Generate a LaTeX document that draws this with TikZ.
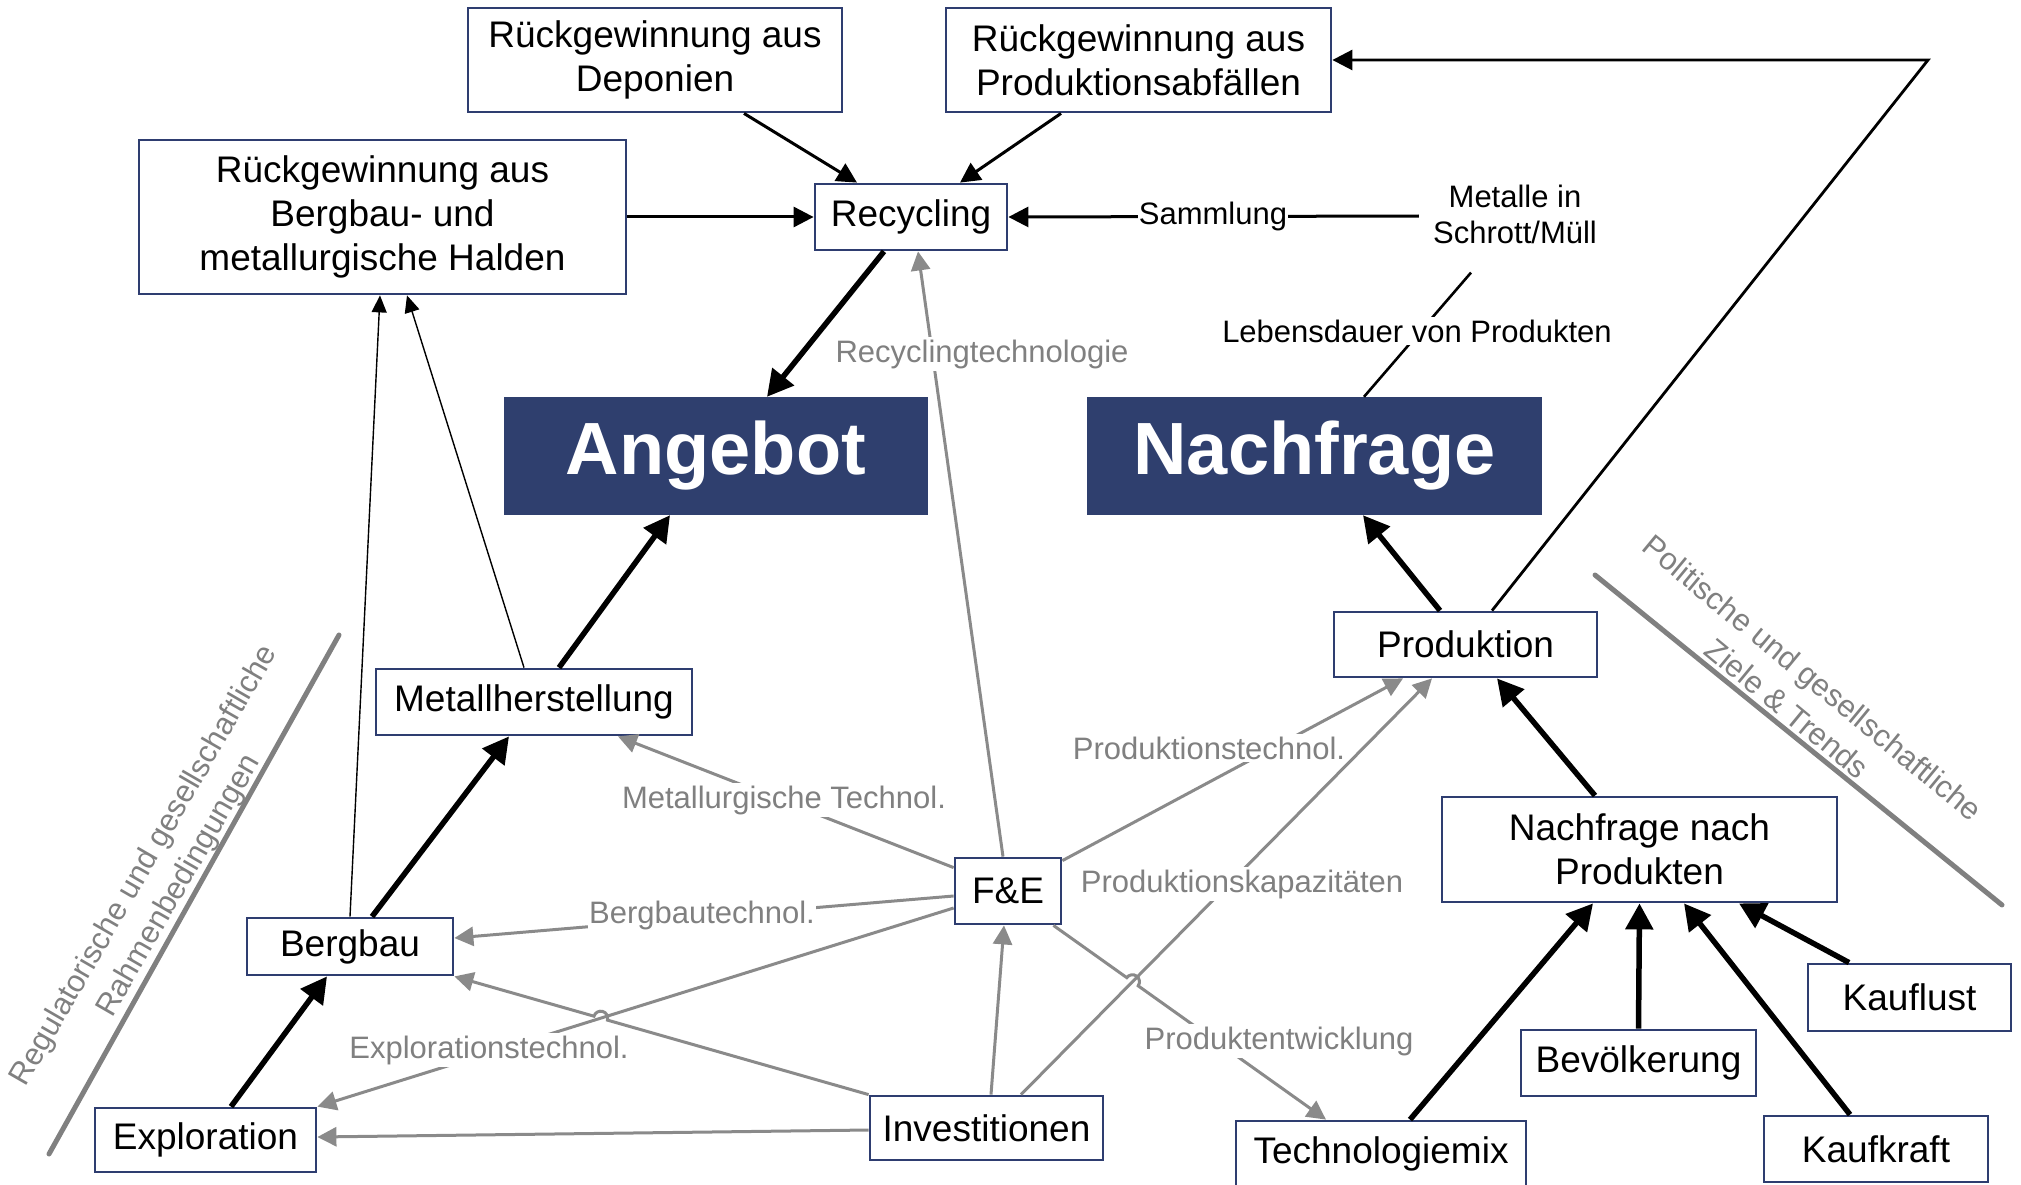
\documentclass[tikz,border=0pt]{standalone}
\usepackage{fontspec}
\setmainfont{Liberation Sans}
\usetikzlibrary{arrows.meta,intersections,calc}
\definecolor{navy}{RGB}{47,63,110}
\definecolor{boxline}{RGB}{46,61,112}
\definecolor{tgray}{RGB}{128,128,128}
\definecolor{lgray}{RGB}{138,138,138}

\begin{document}
\begin{tikzpicture}[x=1pt,y=1pt,
  box/.style={draw=boxline,line width=2.8pt,fill=white,inner sep=0pt,align=center,
    font=\fontsize{37}{44}\selectfont,text=black},
  bigbox/.style={fill=navy,inner sep=0pt,text=white,font=\fontsize{74}{80}\selectfont\bfseries},
  lbl/.style={fill=white,inner xsep=1pt,inner ysep=3pt,font=\fontsize{31}{36}\selectfont,text=tgray},
  blbl/.style={lbl,text=black},
  heavy/.style={line width=5.5pt,-{Triangle[length=26pt,width=27pt]}},
  medium/.style={line width=3pt,-{Triangle[length=20pt,width=20pt]}},
  slim/.style={line width=1.4pt,-{Triangle[length=17pt,width=15pt]}},
  grayarrow/.style={draw=lgray,line width=3pt,-{Triangle[length=19pt,width=19pt]}},
  divider/.style={draw=tgray,line width=5pt,line cap=round},
  sidetext/.style={font=\fontsize{31}{40}\selectfont,text=tgray,align=center}
]
\useasboundingbox (0,0) rectangle (2021,-1185);

% boxes
\node[box,minimum width=374pt,minimum height=104pt] (dep) at (655,-60) {Rückgewinnung aus\\Deponien};
\node[box,minimum width=385pt,minimum height=104pt] (pab) at (1138.5,-60) {Rückgewinnung aus\\Produktionsabfällen};
\node[box,minimum width=487pt,minimum height=154pt] (hal) at (382.5,-217) {Rückgewinnung aus\\Bergbau- und\\metallurgische Halden};
\node[box,minimum width=192pt,minimum height=66pt] (rec) at (911,-217) {Recycling};
\node[bigbox,minimum width=424pt,minimum height=118pt] (ang) at (716,-456) {Angebot};
\node[bigbox,minimum width=455pt,minimum height=118pt] (nach) at (1314.5,-456) {Nachfrage};
\node[box,minimum width=263pt,minimum height=65pt] (prod) at (1465.5,-644.5) {Produktion};
\node[box,minimum width=395pt,minimum height=105pt] (nnp) at (1639.5,-849.5) {Nachfrage nach\\Produkten};
\node[box,minimum width=203pt,minimum height=67pt] (kl) at (1909.5,-997.5) {Kauflust};
\node[box,minimum width=235pt,minimum height=66pt] (bev) at (1638.5,-1063) {Bevölkerung};
\node[box,minimum width=224pt,minimum height=66pt] (kk) at (1876,-1149) {Kaufkraft};
\node[box,minimum width=290pt,minimum height=66pt] (tm) at (1381,-1154) {Technologiemix};
\node[box,minimum width=233pt,minimum height=64pt] (inv) at (986.5,-1128) {Investitionen};
\node[box,minimum width=106pt,minimum height=66pt] (fe) at (1008,-891) {F\&E};
\node[box,minimum width=316pt,minimum height=66pt] (mh) at (534,-702) {Metallherstellung};
\node[box,minimum width=206pt,minimum height=57pt] (berg) at (350,-946.5) {Bergbau};
\node[box,minimum width=221pt,minimum height=64pt] (expl) at (205.5,-1140) {Exploration};

\node[font=\fontsize{31}{36}\selectfont,align=center,inner sep=14pt] (met) at (1515,-214) {Metalle in\\Schrott/Müll};

% side notes
\draw[divider] (339,-635) -- (49,-1154);
\draw[divider] (1595,-575) -- (2002,-905);
\node[sidetext,rotate=60] (regl) at (162,-876) {Regulatorische und gesellschaftliche\\Rahmenbedingungen};
\node[sidetext,rotate=-39.5] (polz) at (1800,-693) {Politische und gesellschaftliche\\Ziele \& Trends};

% recycling inputs
\draw[medium] ([xshift=89pt]dep.south) -- ([xshift=-54pt]rec.north);
\draw[medium] ([xshift=-77.5pt]pab.south) -- ([xshift=49pt]rec.north);
\draw[medium] (hal.east) -- (rec.west);
\draw[medium] ([yshift=-2pt]met.west) -- (rec.east);
\draw[line width=2.6pt] ([xshift=49.5pt]nach.north) -- ([shift={(-44pt,-15pt)}]met.south);
\coordinate (corner) at (1928,-60);
\draw[line width=2.8pt,-{Triangle[length=20pt,width=20pt]}] ([xshift=26.5pt]prod.north) -- (corner) -- (pab.east);

% supply chain
\draw[heavy] ([xshift=-27pt]rec.south) -- ([xshift=51pt]ang.north);
\draw[heavy] ([xshift=25pt]mh.north) -- ([xshift=-46pt]ang.south);
\draw[heavy] ([xshift=22pt]berg.north) -- ([xshift=-25pt]mh.south);
\draw[heavy] ([xshift=25.5pt]expl.north) -- ([xshift=-23pt]berg.south);
\draw[slim] (berg.north) -- ([xshift=-2.5pt]hal.south);
\draw[slim] ([xshift=-10pt]mh.north) -- ([xshift=24.5pt]hal.south);

% demand side
\draw[heavy] ([xshift=-25.5pt]prod.north) -- ([xshift=48.5pt]nach.south);
\draw[heavy] ([xshift=-44.5pt]nnp.north) -- ([xshift=31.5pt]prod.south);
\draw[heavy] ([xshift=29pt]tm.north) -- ([xshift=-46.5pt]nnp.south);
\draw[heavy] (bev.north) -- (nnp.south);
\draw[heavy] ([xshift=-26pt]kk.north) -- ([xshift=44.5pt]nnp.south);
\draw[heavy] ([xshift=-60.5pt]kl.north) -- ([xshift=99.5pt]nnp.south);

% research and investment
\path[name path=pInvBerg] (inv.north west) -- (berg.south east);
\path[name path=pFeExpl] ([yshift=-17pt]fe.west) -- (expl.north east);
\path[name intersections={of=pInvBerg and pFeExpl,by=hopA}];
\path[name path=pFeTm] ([xshift=-9pt]fe.south east) -- ([xshift=-55pt]tm.north);
\path[name path=pInvProd] ([xshift=34.5pt]inv.north) -- ([xshift=-33.5pt]prod.south);
\path[name intersections={of=pFeTm and pInvProd,by=hopB}];

\draw[grayarrow] ([xshift=-5pt]fe.north) -- ([xshift=7pt]rec.south);
\draw[grayarrow] ([yshift=-11pt]fe.north west) -- ([xshift=84pt]mh.south);
\draw[grayarrow] ([yshift=-5pt]fe.west) -- ([yshift=8.5pt]berg.east);
\draw[grayarrow] ([yshift=-17pt]fe.west) -- (expl.north east);
\draw[grayarrow] (inv.north west) -- ([shift={(-16.2:7)}]hopA)
  arc[start angle=-16.2,end angle=163.8,radius=7] -- (berg.south east);
\draw[grayarrow] ([yshift=-2pt]inv.west) -- ([yshift=3pt]expl.east);
\draw[grayarrow] ([xshift=4.5pt]inv.north) -- ([xshift=-4pt]fe.south);
\draw[grayarrow] ([xshift=34.5pt]inv.north) -- ([xshift=-33.5pt]prod.south);
\draw[grayarrow] ([yshift=-4pt]fe.north east) -- ([xshift=-62.5pt]prod.south);
\draw[grayarrow] ([xshift=-9pt]fe.south east) -- ([shift={(144.3:7)}]hopB)
  arc[start angle=144.3,end angle=-35.7,radius=7] -- ([xshift=-55pt]tm.north);

% connector labels
\node[blbl] (samm) at (1213,-216) {Sammlung};
\node[blbl] (leb) at (1417,-331) {Lebensdauer von Produkten};
\node[lbl] (rtech) at (982,-354) {Recyclingtechnologie};
\node[lbl] (mtech) at (784,-800) {Metallurgische Technol.};
\node[lbl] (btech) at (702,-915) {Bergbautechnol.};
\node[lbl] (etech) at (489,-1050) {Explorationstechnol.};
\node[lbl] (ptech) at (1209,-748) {Produktionstechnol.};
\node[lbl] (pkap) at (1242,-884) {Produktionskapazitäten};
\node[lbl] (pent) at (1279,-1041) {Produktentwicklung};
\end{tikzpicture}
\end{document}
